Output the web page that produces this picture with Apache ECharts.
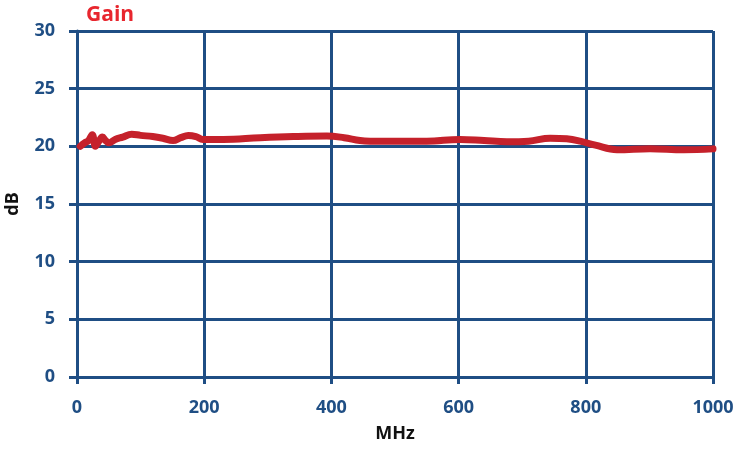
<!DOCTYPE html>
<html>
<head>
<meta charset="utf-8">
<script src="https://cdn.jsdelivr.net/npm/echarts@6/dist/echarts.min.js"></script>
<style>html,body{margin:0;padding:0;background:#fff}#c{width:751px;height:455px}</style>
</head>
<body>
<div id="c"></div>
<script>
var freqMHz = [5, 12, 18, 24, 29, 34, 40, 45, 50, 60, 72, 86, 100, 119, 135, 151, 163, 175, 187, 198, 230, 288, 340, 393, 420, 445, 461, 500, 550, 602, 640, 676, 710, 744, 770, 791, 815, 849, 901, 954, 1000];
var gainDB  = [20.0, 20.3, 20.5, 21.0, 20.0, 20.4, 20.8, 20.5, 20.3, 20.6, 20.8, 21.05, 20.95, 20.85, 20.7, 20.5, 20.75, 20.95, 20.85, 20.6, 20.6, 20.75, 20.85, 20.9, 20.75, 20.5, 20.45, 20.45, 20.45, 20.6, 20.5, 20.4, 20.45, 20.7, 20.65, 20.45, 20.1, 19.7, 19.8, 19.7, 19.78];
var xTicks = [0, 200, 400, 600, 800, 1000];
var yTicks = [0, 5, 10, 15, 20, 25, 30];

var axisBlue = '#1f4e84';
var chart = echarts.init(document.getElementById('c'), null, {renderer: 'canvas'});
chart.setOption({
  animation: false,
  backgroundColor: '#ffffff',
  title: {
    text: 'Gain', left: 81, top: 0,
    textStyle: {color: '#e8262e', fontFamily: 'Open Sans', fontWeight: 'bold', fontSize: 21}
  },
  grid: {left: 77, right: 38, top: 31, bottom: 78, containLabel: false, outerBoundsMode: 'none'},
  xAxis: {
    type: 'value', min: xTicks[0], max: xTicks[xTicks.length - 1], interval: 200,
    name: 'MHz', nameLocation: 'middle', nameGap: 48,
    nameTextStyle: {color: '#111', fontFamily: 'Open Sans', fontWeight: 'bold', fontSize: 18},
    axisLine: {show: true, lineStyle: {color: axisBlue, width: 3}},
    axisTick: {show: true, length: 7, lineStyle: {color: axisBlue, width: 3}},
    axisLabel: {color: axisBlue, fontFamily: 'Open Sans', fontWeight: 'bold', fontSize: 18, margin: 22,
      formatter: function (v) { return String(v); }},
    splitLine: {show: true, lineStyle: {color: axisBlue, width: 3}}
  },
  yAxis: {
    type: 'value', min: yTicks[0], max: yTicks[yTicks.length - 1], interval: 5,
    name: 'dB', nameLocation: 'middle', nameGap: 55, nameRotate: 90,
    nameTextStyle: {color: '#111', fontFamily: 'Open Sans', fontWeight: 'bold', fontSize: 18},
    axisLine: {show: true, lineStyle: {color: axisBlue, width: 3}},
    axisTick: {show: true, length: 8, lineStyle: {color: axisBlue, width: 3}},
    axisLabel: {color: axisBlue, fontFamily: 'Open Sans', fontWeight: 'bold', fontSize: 18, margin: 22},
    splitLine: {show: true, lineStyle: {color: axisBlue, width: 3}}
  },
  series: [{
    type: 'line',
    data: freqMHz.map(function (f, i) { return [f, gainDB[i]]; }),
    smooth: 0.4,
    showSymbol: false,
    lineStyle: {color: '#c5212b', width: 7, cap: 'round', join: 'round'}
  }]
});
</script>
</body>
</html>
